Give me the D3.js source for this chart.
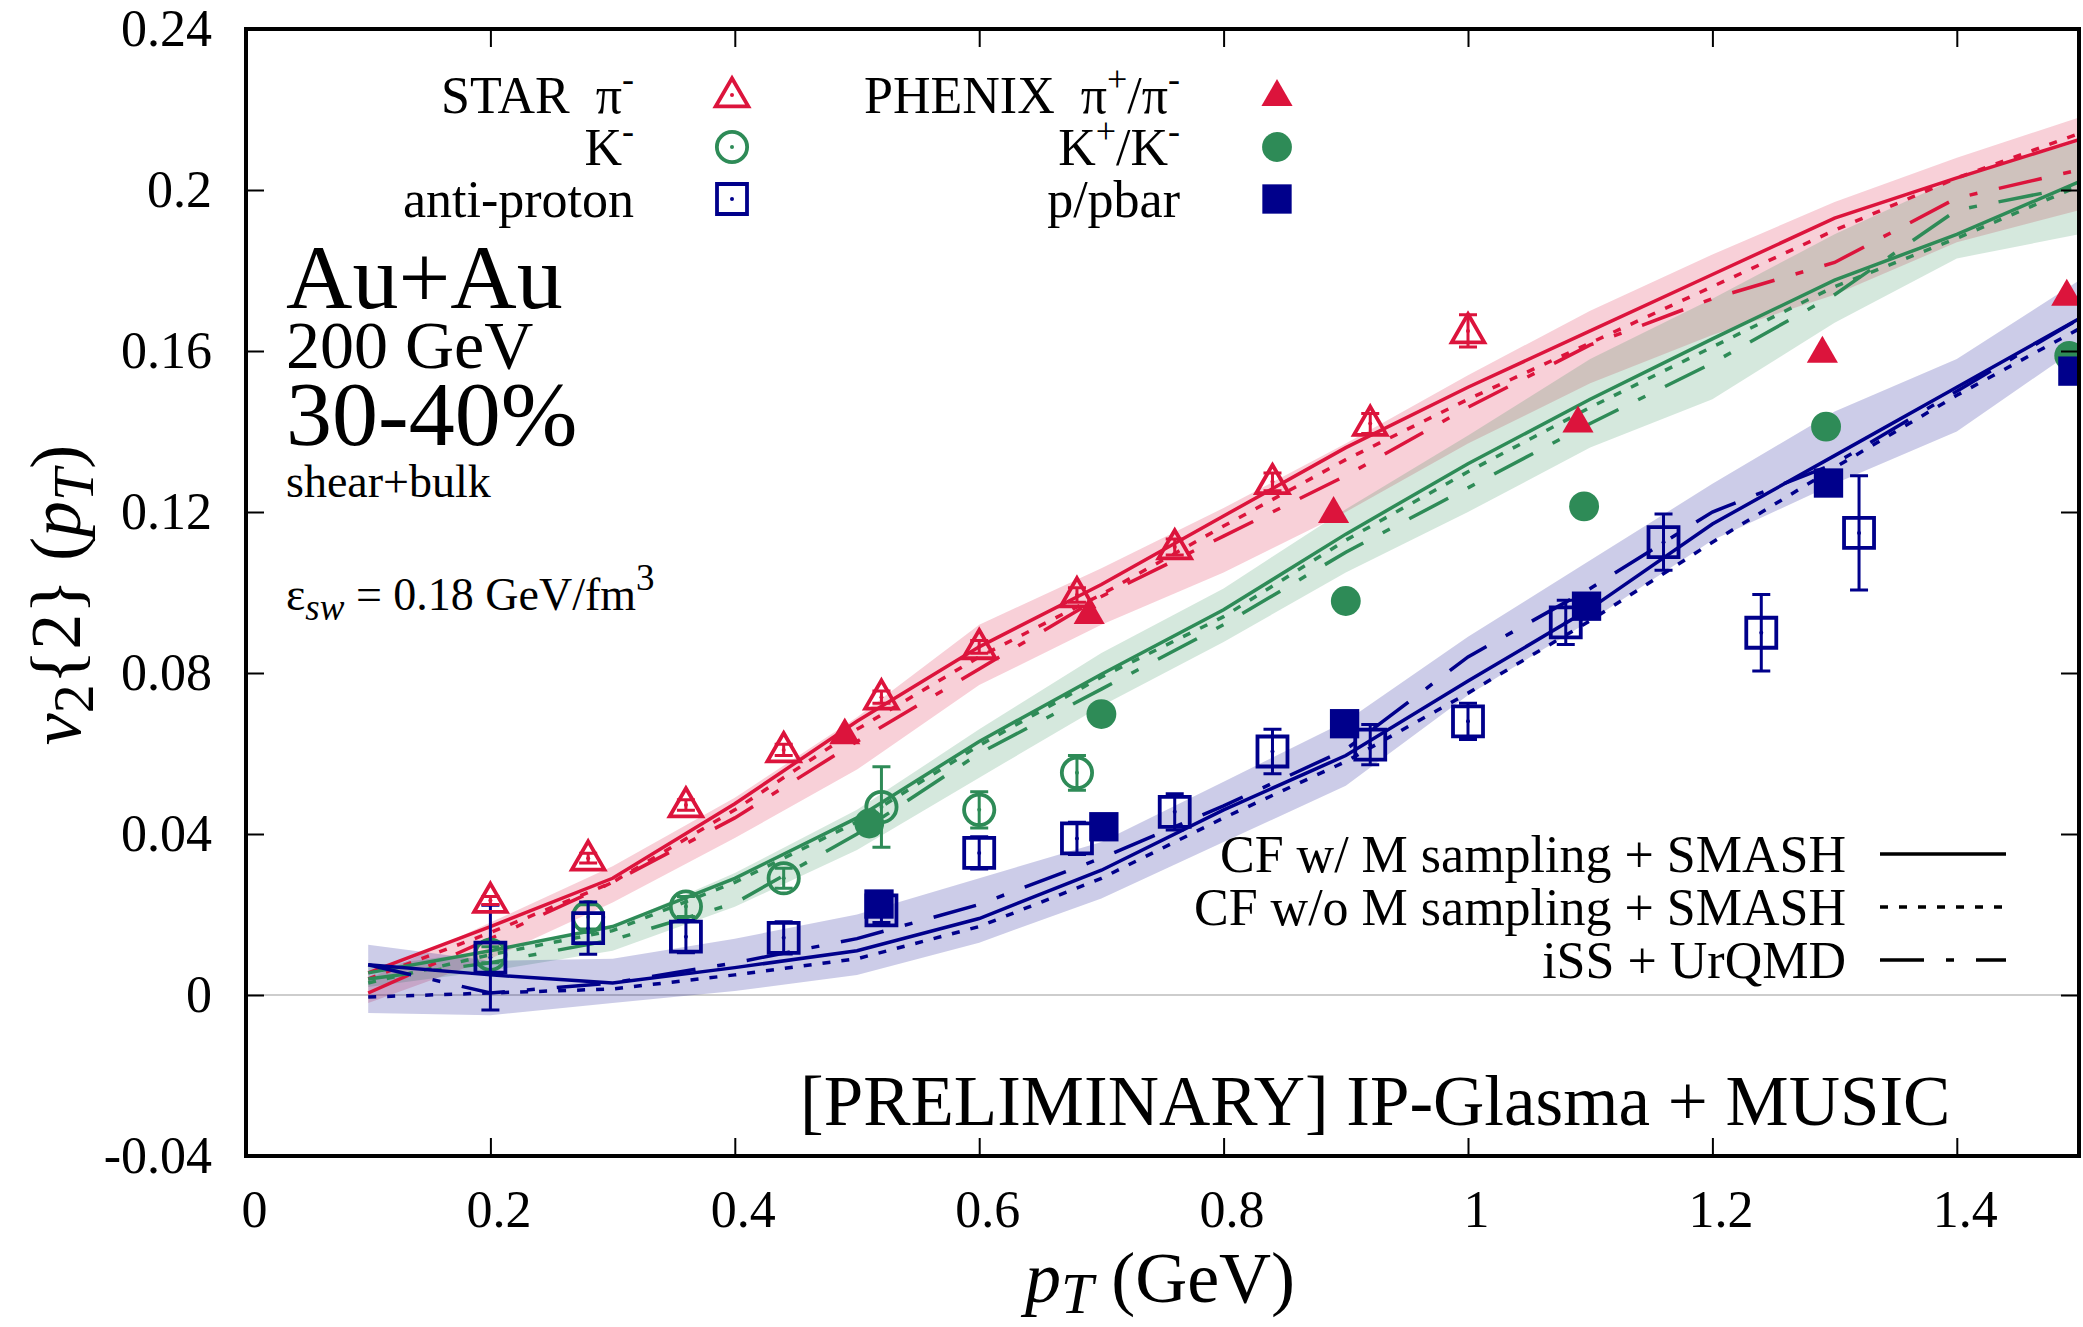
<!DOCTYPE html>
<html>
<head>
<meta charset="utf-8">
<title>v2{2}(pT) Au+Au 200 GeV 30-40%</title>
<script src="https://cdnjs.cloudflare.com/ajax/libs/d3/7.8.5/d3.min.js"></script>
<style>
    body { margin: 0; background: #fff; }
    svg { display: block; font-family: "Liberation Serif", "DejaVu Serif", serif; }
    text { white-space: pre; }
</style>
</head>
<body>
<svg width="2083" height="1327"></svg>
<script>
"use strict";

// Tick values and labels
var xTicks = [0, 0.2, 0.4, 0.6, 0.8, 1.0, 1.2, 1.4];
var xTickLabels = ["0", "0.2", "0.4", "0.6", "0.8", "1", "1.2", "1.4"];
var yTicks = [-0.04, 0, 0.04, 0.08, 0.12, 0.16, 0.2, 0.24];
var yTickLabels = ["-0.04", "0", "0.04", "0.08", "0.12", "0.16", "0.2", "0.24"];

// Model pT grid
var ptGrid = [0.1, 0.2, 0.3, 0.4, 0.5, 0.6, 0.7, 0.8, 0.9, 1.0, 1.1, 1.2, 1.3, 1.4, 1.5];

// Pions: CF w/ M sampling, CF w/o M sampling, iSS + UrQMD, band
var piCFM   = [0.0055, 0.017, 0.029, 0.0475, 0.068, 0.0865, 0.102, 0.119, 0.136, 0.151, 0.165, 0.179, 0.193, 0.203, 0.2125];
var piCFnoM = [0.004, 0.0155, 0.028, 0.046, 0.066, 0.084, 0.0995, 0.1165, 0.133, 0.148, 0.162, 0.176, 0.190, 0.203, 0.214];
var piISS   = [0.0005, 0.014, 0.028, 0.044, 0.063, 0.081, 0.099, 0.114, 0.129, 0.146, 0.1615, 0.173, 0.182, 0.198, 0.205];
var piBandLo = [-0.002, 0.009, 0.023, 0.039, 0.056, 0.077, 0.092, 0.105, 0.120, 0.137, 0.152, 0.164, 0.174, 0.187, 0.195];
var piBandHi = [0.004, 0.018, 0.032, 0.049, 0.069, 0.092, 0.106, 0.121, 0.137, 0.154, 0.170, 0.184, 0.197, 0.208, 0.218];

// Kaons
var kCFM   = [0.0055, 0.011, 0.017, 0.029, 0.044, 0.063, 0.0797, 0.0957, 0.1145, 0.132, 0.148, 0.163, 0.1776, 0.189, 0.202];
var kCFnoM = [0.003, 0.010, 0.016, 0.028, 0.043, 0.062, 0.079, 0.094, 0.113, 0.130, 0.146, 0.161, 0.176, 0.188, 0.201];
var kISS   = [0.004, 0.008, 0.0137, 0.0228, 0.040, 0.060, 0.076, 0.092, 0.110, 0.126, 0.142, 0.157, 0.174, 0.195, 0.201];
var kBandLo = [0.002, 0.006, 0.011, 0.0219, 0.036, 0.054, 0.0718, 0.0877, 0.105, 0.120, 0.136, 0.148, 0.167, 0.183, 0.189];
var kBandHi = [0.007, 0.011, 0.017, 0.0303, 0.046, 0.066, 0.085, 0.101, 0.1207, 0.139, 0.158, 0.173, 0.189, 0.203, 0.212];

// Protons
var pCFM   = [0.0075, 0.005, 0.003, 0.0068, 0.011, 0.019, 0.031, 0.046, 0.0595, 0.078, 0.096, 0.117, 0.134, 0.151, 0.168];
var pCFnoM = [-0.0005, 0.0005, 0.0015, 0.005, 0.009, 0.017, 0.029, 0.044, 0.058, 0.075, 0.093, 0.1125, 0.131, 0.149, 0.1655];
var pISS   = [0.0075, 0.0005, 0.003, 0.008, 0.014, 0.0225, 0.034, 0.047, 0.061, 0.084, 0.101, 0.120, 0.132, 0.150, 0.168];
var pBandLo = [-0.0045, -0.005, -0.002, 0.001, 0.005, 0.013, 0.024, 0.038, 0.052, 0.0745, 0.093, 0.113, 0.127, 0.140, 0.161];
var pBandHi = [0.0125, 0.0085, 0.009, 0.014, 0.020, 0.029, 0.038, 0.053, 0.068, 0.089, 0.108, 0.127, 0.145, 0.158, 0.1775];

// STAR data
var starPiX = [0.2, 0.28, 0.36, 0.44, 0.52, 0.6, 0.68, 0.76, 0.84, 0.92, 1.0];
var starPiY = [0.0235, 0.034, 0.0472, 0.0609, 0.074, 0.0865, 0.0994, 0.1113, 0.1275, 0.142, 0.165];
var starPiErr = [0.001, 0.0012, 0.0013, 0.0014, 0.0015, 0.0016, 0.0018, 0.002, 0.0022, 0.0025, 0.004];

var starKX = [0.2, 0.28, 0.36, 0.44, 0.52, 0.6, 0.68];
var starKY = [0.010, 0.0194, 0.022, 0.029, 0.0467, 0.046, 0.0552];
var starKErr = [0.002, 0.003, 0.0025, 0.0025, 0.010, 0.0045, 0.0043];

var starPbarX = [0.2, 0.28, 0.36, 0.44, 0.52, 0.6, 0.68, 0.76, 0.84, 0.92, 1.0, 1.08, 1.16, 1.24, 1.32];
var starPbarY = [0.0093, 0.0166, 0.0145, 0.0142, 0.021, 0.0353, 0.0389, 0.0455, 0.0605, 0.0622, 0.068, 0.0926, 0.1125, 0.090, 0.1148];
var starPbarErr = [0.013, 0.0065, 0.004, 0.004, 0.003, 0.004, 0.004, 0.0045, 0.0055, 0.005, 0.0045, 0.0055, 0.007, 0.0095, 0.0142];

// PHENIX data
var phenixPiX = [0.49, 0.69, 0.89, 1.09, 1.29, 1.49];
var phenixPiY = [0.065, 0.0949, 0.120, 0.1425, 0.1598, 0.174];
var phenixKX = [0.51, 0.70, 0.90, 1.095, 1.293, 1.492];
var phenixKY = [0.0426, 0.0698, 0.0979, 0.1214, 0.1412, 0.1588];
var phenixPX = [0.518, 0.702, 0.899, 1.097, 1.295, 1.495];
var phenixPY = [0.0226, 0.0418, 0.0674, 0.0966, 0.1272, 0.155];

var red = "#dc143c";
var green = "#2e8b57";
var blue = "#00008b";
var dotted = "8,11";
var dashDot = "44,22,8,22";

// Initialize scales
var xScale = d3.scaleLinear()
    .domain([0, 1.5])
    .range([246, 2079]);

var yScale = d3.scaleLinear()
    .domain([-0.04, 0.24])
    .range([1156, 29]);

var svg = d3.select("svg");

// Clip to the plot frame
svg.append("clipPath")
        .attr("id", "frame")
    .append("rect")
        .attr("x", 246)
        .attr("y", 29)
        .attr("width", 1833)
        .attr("height", 1127);

var plot = svg.append("g")
    .attr("clip-path", "url(#frame)");

// Zero line
plot.append("line")
    .attr("x1", xScale(0))
    .attr("x2", xScale(1.5))
    .attr("y1", yScale(0))
    .attr("y2", yScale(0))
    .attr("stroke", "#bdbdbd")
    .attr("stroke-width", 1.5);

var gridRows = function(lo, hi) {
    return ptGrid.map(function(x, i) { return { x: x, lo: lo[i], hi: hi[i] }; });
};

var area = d3.area()
    .x(function(d) { return xScale(d.x); })
    .y0(function(d) { return yScale(d.lo); })
    .y1(function(d) { return yScale(d.hi); });

var line = d3.line()
    .x(function(d, i) { return xScale(ptGrid[i]); })
    .y(function(d) { return yScale(d); });

// Bands
[[piBandLo, piBandHi, red], [kBandLo, kBandHi, green], [pBandLo, pBandHi, blue]]
    .forEach(function(b) {
        plot.append("path")
            .attr("d", area(gridRows(b[0], b[1])))
            .attr("fill", b[2])
            .attr("fill-opacity", 0.2);
    });

// Model curves
[[piCFM, piCFnoM, piISS, red], [kCFM, kCFnoM, kISS, green], [pCFM, pCFnoM, pISS, blue]]
    .forEach(function(c) {
        var dashes = [null, dotted, dashDot];
        for (var j = 0; j < 3; j++) {
            plot.append("path")
                .attr("d", line(c[j]))
                .attr("fill", "none")
                .attr("stroke", c[3])
                .attr("stroke-width", 3.5)
                .attr("stroke-dasharray", dashes[j]);
        }
    });

// Symbols
var symbolFor = function(shape, filled) {
    var sizes = {
        triangle: filled ? 420 : 460,
        circle: filled ? 700 : 720,
        square: filled ? 860 : 900
    };
    var types = { triangle: d3.symbolTriangle, circle: d3.symbolCircle, square: d3.symbolSquare };
    return d3.symbol().type(types[shape]).size(sizes[shape])();
};

var drawMarker = function(g, cx, cy, shape, color, filled) {
    var m = g.append("g").attr("transform", "translate(" + cx + "," + cy + ")");
    m.append("path")
        .attr("d", symbolFor(shape, filled))
        .attr("transform", shape === "triangle" ? "translate(0,2)" : null)
        .attr("fill", filled ? color : "none")
        .attr("stroke", filled ? "none" : color)
        .attr("stroke-width", 3.8);
    if (!filled) {
        m.append("circle")
            .attr("r", 2)
            .attr("fill", color);
    }
};

var drawSeries = function(xs, ys, errs, shape, color, filled) {
    var g = plot.append("g");
    for (var i = 0; i < xs.length; i++) {
        var cx = xScale(xs[i]);
        var cy = yScale(ys[i]);
        if (errs) {
            var top = yScale(ys[i] + errs[i]);
            var bot = yScale(ys[i] - errs[i]);
            g.append("path")
                .attr("d", "M" + cx + "," + top + "V" + bot +
                    "M" + (cx - 9) + "," + top + "H" + (cx + 9) +
                    "M" + (cx - 9) + "," + bot + "H" + (cx + 9))
                .attr("stroke", color)
                .attr("stroke-width", 3)
                .attr("fill", "none");
        }
        drawMarker(g, cx, cy, shape, color, filled);
    }
};

drawSeries(starKX, starKY, starKErr, "circle", green, false);
drawSeries(starPbarX, starPbarY, starPbarErr, "square", blue, false);
drawSeries(starPiX, starPiY, starPiErr, "triangle", red, false);
drawSeries(phenixPiX, phenixPiY, null, "triangle", red, true);
drawSeries(phenixKX, phenixKY, null, "circle", green, true);
drawSeries(phenixPX, phenixPY, null, "square", blue, true);

// Axes with inward ticks
var styleAxis = function(g) {
    g.select(".domain").remove();
    g.selectAll("line").attr("stroke", "#000").attr("stroke-width", 2);
    g.attr("font-size", 52).attr("font-family", "Liberation Serif, serif");
};

svg.append("g")
    .attr("transform", "translate(0,1156)")
    .call(d3.axisBottom(xScale)
        .tickValues(xTicks)
        .tickFormat(function(d, i) { return xTickLabels[i]; })
        .tickSizeInner(-18).tickSizeOuter(0).tickPadding(34))
    .call(styleAxis)
    .selectAll("text").attr("dx", 8);

svg.append("g")
    .attr("transform", "translate(0,29)")
    .call(d3.axisTop(xScale).tickValues(xTicks).tickFormat("").tickSizeInner(-18).tickSizeOuter(0))
    .call(styleAxis);

svg.append("g")
    .attr("transform", "translate(246,0)")
    .call(d3.axisLeft(yScale)
        .tickValues(yTicks)
        .tickFormat(function(d, i) { return yTickLabels[i]; })
        .tickSizeInner(-18).tickSizeOuter(0).tickPadding(34))
    .call(styleAxis);

svg.append("g")
    .attr("transform", "translate(2079,0)")
    .call(d3.axisRight(yScale).tickValues(yTicks).tickFormat("").tickSizeInner(-18).tickSizeOuter(0))
    .call(styleAxis);

// Frame
svg.append("rect")
    .attr("x", 246)
    .attr("y", 29)
    .attr("width", 1833)
    .attr("height", 1127)
    .attr("fill", "none")
    .attr("stroke", "#000")
    .attr("stroke-width", 4);

// Axis titles
var yTitle = svg.append("text")
    .attr("transform", "translate(80,595) rotate(-90)")
    .attr("text-anchor", "middle")
    .attr("font-size", 72);
yTitle.append("tspan").attr("font-style", "italic").text("v");
yTitle.append("tspan").attr("dy", 13).attr("font-size", 58).text("2");
yTitle.append("tspan").attr("dy", -13).text("{2} (");
yTitle.append("tspan").attr("font-style", "italic").text("p");
yTitle.append("tspan").attr("font-style", "italic").attr("dy", 13).attr("font-size", 58).text("T");
yTitle.append("tspan").attr("dy", -13).text(")");

var xTitle = svg.append("text")
    .attr("x", 1160)
    .attr("y", 1302)
    .attr("text-anchor", "middle")
    .attr("font-size", 72);
xTitle.append("tspan").attr("font-style", "italic").text("p");
xTitle.append("tspan").attr("font-style", "italic").attr("dy", 11).attr("font-size", 58).text("T");
xTitle.append("tspan").attr("dy", -11).text(" (GeV)");

// System labels
var labels = [["Au+Au", 308, 92], ["200 GeV", 368, 68], ["30-40%", 445, 92], ["shear+bulk", 497, 46]];
labels.forEach(function(l) {
    svg.append("text")
        .attr("x", 286)
        .attr("y", l[1])
        .attr("font-size", l[2])
        .text(l[0]);
});

var eps = svg.append("text")
    .attr("x", 286)
    .attr("y", 610)
    .attr("font-size", 46);
eps.append("tspan").text("\u03b5");
eps.append("tspan").attr("dy", 10).attr("font-size", 37).attr("font-style", "italic").text("sw");
eps.append("tspan").attr("dy", -10).text(" = 0.18 GeV/fm");
eps.append("tspan").attr("dy", -20).attr("font-size", 37).text("3");

svg.append("text")
    .attr("x", 800)
    .attr("y", 1125)
    .attr("font-size", 71)
    .text("[PRELIMINARY] IP-Glasma + MUSIC");

// Data legend (pieces: [text, superscript?])
var legendText = function(x, y, parts) {
    var t = svg.append("text")
        .attr("x", x)
        .attr("y", y)
        .attr("text-anchor", "end")
        .attr("font-size", 52);
    var raised = false;
    parts.forEach(function(p) {
        var s = t.append("tspan").text(p[0]);
        if (p[1] && !raised) { s.attr("dy", -22).attr("font-size", 36); raised = true; }
        else if (!p[1] && raised) { s.attr("dy", 22); raised = false; }
        else if (p[1]) { s.attr("font-size", 36); }
    });
};

var legendRows = [95, 147, 199];
legendText(634, legendRows[0] + 18, [["STAR  \u03c0", false], ["-", true]]);
legendText(634, legendRows[1] + 18, [["K", false], ["-", true]]);
legendText(634, legendRows[2] + 18, [["anti-proton", false]]);
legendText(1180, legendRows[0] + 18, [["PHENIX  \u03c0", false], ["+", true], ["/\u03c0", false], ["-", true]]);
legendText(1180, legendRows[1] + 18, [["K", false], ["+", true], ["/K", false], ["-", true]]);
legendText(1180, legendRows[2] + 18, [["p/pbar", false]]);

var legendG = svg.append("g");
[["triangle", red], ["circle", green], ["square", blue]].forEach(function(s, i) {
    drawMarker(legendG, 732, legendRows[i], s[0], s[1], false);
    drawMarker(legendG, 1277, legendRows[i], s[0], s[1], true);
});

// Model legend
var modelLegend = [["CF w/ M sampling + SMASH", null], ["CF w/o M sampling + SMASH", dotted], ["iSS + UrQMD", dashDot]];
modelLegend.forEach(function(m, i) {
    var y = 854 + i * 53;
    svg.append("text")
        .attr("x", 1846)
        .attr("y", y + 18)
        .attr("text-anchor", "end")
        .attr("font-size", 52)
        .text(m[0]);
    svg.append("line")
        .attr("x1", 1880)
        .attr("x2", 2006)
        .attr("y1", y)
        .attr("y2", y)
        .attr("stroke", "#000")
        .attr("stroke-width", 3.5)
        .attr("stroke-dasharray", m[1]);
});
</script>
</body>
</html>
